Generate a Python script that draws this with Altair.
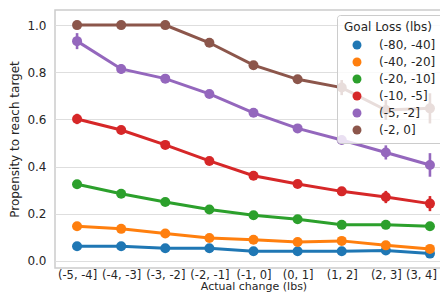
import altair as alt
import pandas as pd

bins = ["(-5, -4]", "(-4, -3]", "(-3, -2]", "(-2, -1]", "(-1, 0]",
        "(0, 1]", "(1, 2]", "(2, 3]", "(3, 4]"]
groups = ["(-80, -40]", "(-40, -20]", "(-20, -10]", "(-10, -5]", "(-5, -2]", "(-2, 0]"]
colors = ["#1f77b4", "#ff7f0e", "#2ca02c", "#d62728", "#9467bd", "#8c564b"]

g_80_40 = [0.062, 0.062, 0.054, 0.054, 0.041, 0.041, 0.041, 0.044, 0.031]
g_40_20 = [0.147, 0.136, 0.116, 0.097, 0.090, 0.080, 0.085, 0.066, 0.051]
g_20_10 = [0.325, 0.285, 0.250, 0.218, 0.194, 0.177, 0.153, 0.153, 0.147]
g_10_5 = [0.602, 0.555, 0.492, 0.424, 0.361, 0.326, 0.295, 0.271, 0.243]
g_5_2 = [0.932, 0.814, 0.773, 0.708, 0.628, 0.562, 0.513, 0.460, 0.407]
g_2_0 = [1.000, 1.000, 1.000, 0.925, 0.830, 0.770, 0.735, 0.640, 0.647]

e_80_40 = [0.005, 0.005, 0.005, 0.005, 0.005, 0.005, 0.006, 0.007, 0.008]
e_40_20 = [0.007, 0.007, 0.007, 0.007, 0.007, 0.007, 0.008, 0.009, 0.010]
e_20_10 = [0.010, 0.009, 0.009, 0.009, 0.008, 0.009, 0.010, 0.011, 0.013]
e_10_5 = [0.022, 0.014, 0.012, 0.011, 0.011, 0.012, 0.015, 0.026, 0.032]
e_5_2 = [0.034, 0.020, 0.014, 0.013, 0.012, 0.013, 0.018, 0.030, 0.050]
e_2_0 = [0.000, 0.000, 0.000, 0.008, 0.010, 0.014, 0.032, 0.042, 0.064]

series = [g_80_40, g_40_20, g_20_10, g_10_5, g_5_2, g_2_0]
errors = [e_80_40, e_40_20, e_20_10, e_10_5, e_5_2, e_2_0]

rows = []
for gi, (g, vals, errs) in enumerate(zip(groups, series, errors)):
    for b, v, e in zip(bins, vals, errs):
        rows.append({"bin": b, "group": g, "order": gi, "value": v,
                     "lo": v - e, "hi": v + e})
df = pd.DataFrame(rows)

FONT = "DejaVu Sans"
TXT = "#262626"
FS = 12

x_scale = alt.Scale(type="point", padding=0.5)
x = alt.X("bin:N", sort=bins, title="Actual change (lbs)", scale=x_scale,
          axis=alt.Axis(labelAngle=0, grid=False, ticks=False, tickSize=0,
                        domain=False, labelPadding=1, titlePadding=0,
                        labelFontSize=11.5, titleFontSize=11,
                        labelOffset={"condition": {"test": "datum.value === '(3, 4]'",
                                                   "value": -9},
                                     "value": 0}))
y_scale = alt.Scale(domain=[-0.03, 1.064], nice=False, zero=False)
cscale = alt.Scale(domain=groups, range=colors)
color = alt.Color("group:N", sort=groups, scale=cscale,
                  legend=alt.Legend(title="Goal Loss (lbs)", orient="none",
                                    legendX=282, legendY=5, padding=7,
                                    fillColor="rgba(255,255,255,0.8)",
                                    strokeColor="#cccccc", cornerRadius=3,
                                    symbolType="circle", symbolSize=80,
                                    symbolStrokeWidth=0, symbolOpacity=1,
                                    symbolOffset=7, labelOffset=16,
                                    rowPadding=5, titlePadding=5,
                                    titleFontWeight="normal", titleFontSize=FS,
                                    labelFontSize=FS, titleColor=TXT,
                                    labelColor=TXT, titleFont=FONT, labelFont=FONT))

base = alt.Chart(df)

err = base.mark_rule(strokeWidth=2.6).encode(
    x=x,
    y=alt.Y("lo:Q", scale=y_scale),
    y2="hi:Q",
    color=color,
)

lines = base.mark_line(strokeWidth=3).encode(
    x=x,
    y=alt.Y("value:Q", scale=y_scale, title="Propensity to reach target",
            axis=alt.Axis(values=[0.0, 0.2, 0.4, 0.6, 0.8, 1.0], format=".1f",
                          grid=True, gridColor="#dedede", gridWidth=1.2,
                          ticks=False, tickSize=0, domain=False,
                          labelPadding=9, titlePadding=5)),
    color=color,
)

points = base.mark_point(filled=True, size=100, opacity=1, shape="circle").encode(
    x=x,
    y=alt.Y("value:Q", scale=y_scale),
    color=color,
)

chart = alt.layer(err, lines, points).properties(
    width=397, height=258,
    autosize=alt.AutoSizeParams(type="none"),
    padding={"left": 47, "top": 2, "right": -12, "bottom": 25},
    background="white",
).configure_view(
    stroke="#cccccc", strokeWidth=1.5
).configure_axis(
    labelFont=FONT, titleFont=FONT, labelFontSize=FS, titleFontSize=FS,
    labelColor=TXT, titleColor=TXT, titleFontWeight="normal",
)

chart.save("out.html", embed_options={"renderer": "svg", "actions": False})
